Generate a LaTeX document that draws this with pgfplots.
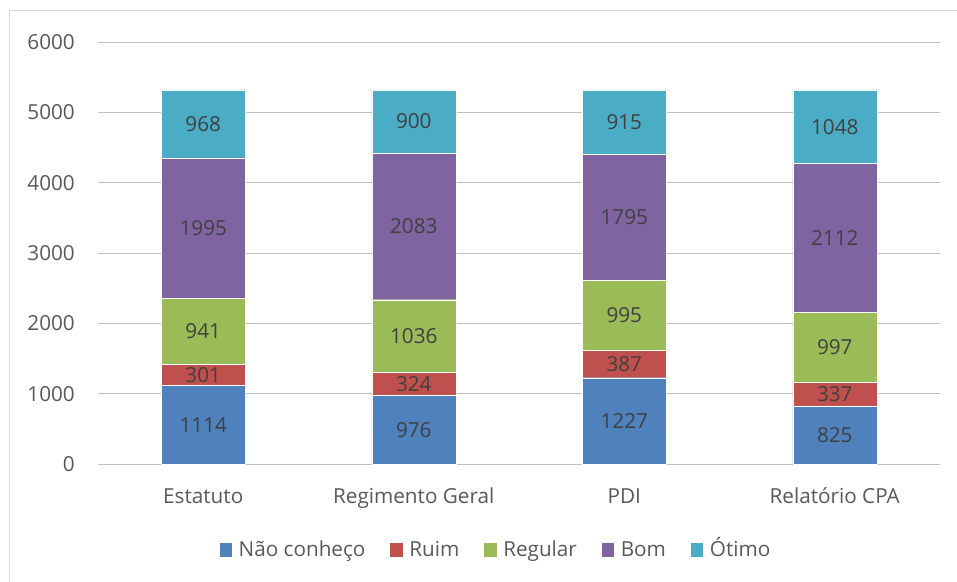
\documentclass[border=0pt]{standalone}
\usepackage{fontspec}
\setmainfont{Open Sans}
\usepackage{pgfplots}
\pgfplotsset{compat=1.18}
\usepackage{pgfplotstable}
\definecolor{cA}{HTML}{4F81BD}
\definecolor{cB}{HTML}{C0504D}
\definecolor{cC}{HTML}{9BBB59}
\definecolor{cD}{HTML}{8064A2}
\definecolor{cE}{HTML}{4BACC6}
\definecolor{grid}{HTML}{D9D9D9}
\definecolor{txt}{HTML}{595959}
\definecolor{lbl}{HTML}{404040}
\newcommand{\cfont}{\fontsize{20.7}{24}\selectfont}
\pgfplotstableread{
x naoconheco ruim regular bom otimo
0 1114 301 941 1995 968
1 976 324 1036 2083 900
2 1227 387 995 1795 915
3 825 337 997 2112 1048
}\data
\pgfplotstableread{
x y label
0 557 1114
0 1264.5 301
0 1885.5 941
0 3353.5 1995
0 4835 968
1 488 976
1 1138 324
1 1818 1036
1 3377.5 2083
1 4869 900
2 613.5 1227
2 1420.5 387
2 2111.5 995
2 3506.5 1795
2 4861.5 915
3 412.5 825
3 993.5 337
3 1660.5 997
3 3215 2112
3 4795 1048
}\labels
\begin{document}
\begin{tikzpicture}
\useasboundingbox (0pt,0pt) rectangle (957pt,581pt);
\fill[white] (0pt,0pt) rectangle (957pt,581pt);
\draw[grid, line width=1pt] (9.5pt,-50pt) -- (9.5pt,570pt) -- (1000pt,570pt);
\begin{axis}[
  at={(98pt,117pt)}, anchor=south west,
  scale only axis, width=842pt, height=422pt,
  ybar stacked, bar width=84pt,
  xmin=-0.5, xmax=3.5, ymin=0, ymax=6000,
  xtick={0,1,2,3},
  xticklabels={Estatuto, Regimento Geral, PDI, Relatório CPA},
  ytick={0,1000,2000,3000,4000,5000,6000},
  xmajorgrids=false, ymajorgrids=true,
  grid style={grid, line width=1pt},
  axis line style={draw=none},
  major tick length=0pt,
  tick style={draw=none},
  /pgf/number format/assume math mode=true,
  /pgf/number format/1000 sep={},
  ticklabel style={font=\cfont, text=txt},
  xticklabel style={anchor=base, yshift=-39pt},
  yticklabel style={anchor=east, inner sep=0pt, xshift=-23pt},
  legend columns=-1,
  legend style={at={(0.471,-0.199)}, anchor=center, draw=none, fill=none,
    font=\cfont, text=txt, inner sep=0pt,
    nodes={inner sep=0pt, anchor=base west},
    /tikz/every odd column/.append style={column sep=6pt},
    /tikz/every even column/.append style={column sep=24pt}},
  legend image code/.code={\fill[#1] (0pt,0pt) rectangle (13.5pt,14.5pt);},
]
\addplot[fill=cA, draw=white, line width=0.4pt] table[x=x, y=naoconheco] {\data};
\addlegendentry{Não conheço}
\addplot[fill=cB, draw=white, line width=0.4pt] table[x=x, y=ruim] {\data};
\addlegendentry{Ruim}
\addplot[fill=cC, draw=white, line width=0.4pt] table[x=x, y=regular] {\data};
\addlegendentry{Regular}
\addplot[fill=cD, draw=white, line width=0.4pt] table[x=x, y=bom] {\data};
\addlegendentry{Bom}
\addplot[fill=cE, draw=white, line width=0.4pt] table[x=x, y=otimo] {\data};
\addlegendentry{Ótimo}
\end{axis}
\begin{axis}[
  at={(98pt,117pt)}, anchor=south west,
  scale only axis, width=842pt, height=422pt,
  xmin=-0.5, xmax=3.5, ymin=0, ymax=6000,
  hide axis,
]
\addplot[draw=none, mark=none, nodes near coords, point meta=explicit symbolic,
  nodes near coords style={anchor=center, font=\cfont, text=lbl}]
  table[x=x, y=y, meta=label] {\labels};
\end{axis}
\end{tikzpicture}
\end{document}
